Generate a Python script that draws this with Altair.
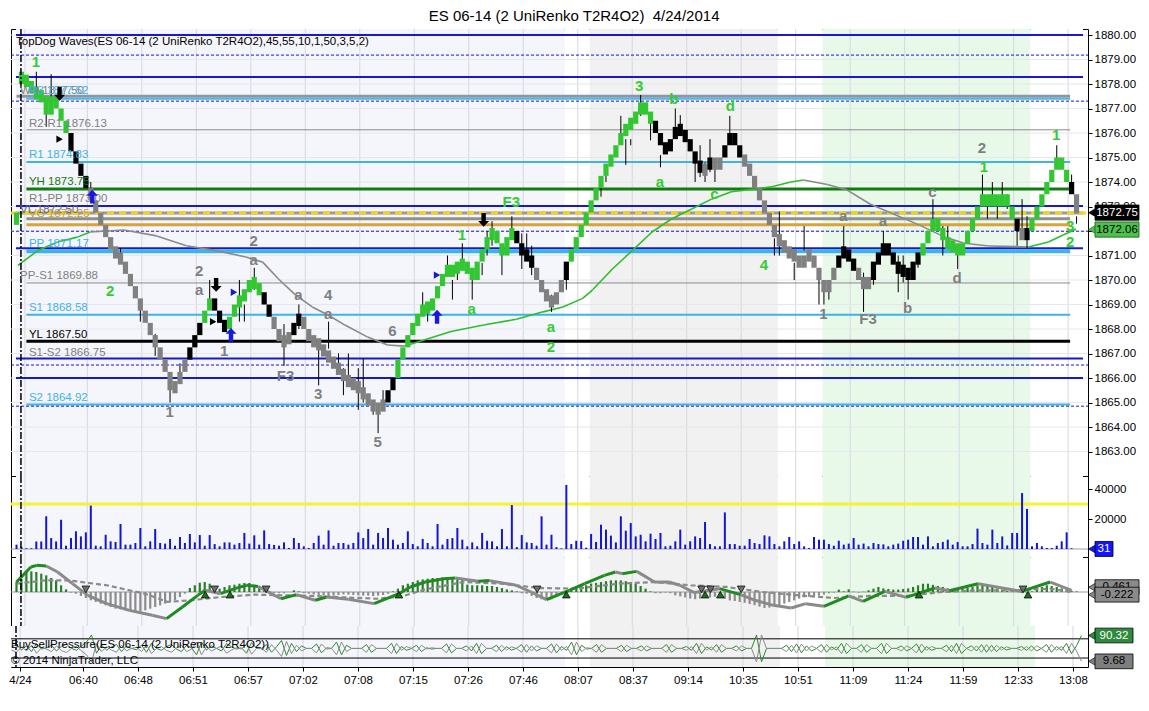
import altair as alt
import pandas as pd

# ------------------------------------------------------------------ data
TITLE = "ES 06-14 (2 UniRenko T2R4O2)\u00a0\u00a04/24/2014"

# UniRenko bar closes (one per bar index k = 0..214)
closes = [
    1872.5, 1878.25,
    1878.0, 1877.75, 1877.5, 1877.5, 1876.75, 1877.5, 1877.0, 1876.5, 1876.0,
    1875.25, 1874.75, 1874.25, 1873.75,
    1873.25, 1872.75, 1872.25, 1871.75, 1871.25, 1871.0, 1870.75, 1870.25, 1869.75, 1869.25,
    1868.75, 1868.25, 1867.75, 1867.25, 1866.75, 1866.25, 1865.5, 1865.75, 1866.25, 1866.75,
    1867.25, 1867.75, 1868.25,
    1868.75, 1869.25,
    1868.75, 1868.25, 1868.0,
    1868.5, 1869.0, 1869.25, 1869.5, 1870.0, 1869.75, 1869.5,
    1869.0, 1868.5,
    1868.0, 1867.5, 1867.5, 1867.75,
    1868.25, 1868.5,
    1868.0, 1867.5, 1867.5, 1867.25, 1867.0, 1866.75, 1866.5, 1866.25, 1866.0, 1865.75,
    1865.75, 1865.5, 1865.25, 1865.0, 1864.75, 1864.75, 1865.0,
    1865.5, 1866.0,
    1866.75, 1867.25, 1867.75, 1868.25, 1868.5, 1869.0, 1868.75, 1869.25, 1869.75, 1870.25,
    1870.5, 1870.25, 1870.75, 1870.5, 1870.5, 1870.0, 1870.75, 1871.25, 1871.75, 1872.0,
    1871.5, 1871.0, 1871.75, 1872.0,
    1871.5, 1871.0, 1871.0, 1870.5,
    1870.0, 1869.5, 1869.25, 1869.0, 1869.5, 1870.0,
    1870.75,
    1871.25, 1871.75, 1872.25, 1872.75, 1873.25, 1873.75, 1874.25, 1874.75, 1875.0, 1875.5,
    1876.0, 1876.25, 1876.5, 1876.75, 1877.25, 1876.75, 1876.5,
    1876.0, 1875.5, 1875.25, 1875.75, 1876.25, 1876.0, 1875.75, 1875.25, 1874.75, 1874.5,
    1874.5, 1875.0, 1874.5, 1875.0,
    1875.5, 1876.0, 1875.5, 1875.0,
    1874.75, 1874.25, 1873.75, 1873.25, 1872.75, 1872.25, 1871.75, 1871.5, 1871.25, 1871.0,
    1871.0, 1870.5, 1871.0, 1871.0, 1870.5, 1870.0, 1869.5, 1870.0, 1870.5,
    1871.0, 1871.25, 1870.75, 1870.5,
    1870.0, 1869.75, 1870.0,
    1870.75, 1871.0, 1871.5, 1871.0, 1870.75, 1870.25, 1870.5, 1870.0, 1870.75, 1871.0,
    1871.5, 1872.0, 1872.5, 1872.0, 1871.75, 1871.25, 1871.5, 1871.0, 1871.5, 1872.0,
    1872.5, 1873.0, 1873.5, 1873.0, 1873.5, 1873.0, 1873.5, 1873.0, 1872.5,
    1872.0, 1871.75, 1872.0,
    1872.5, 1873.0, 1873.5, 1874.0, 1874.5, 1875.0, 1874.5, 1874.0,
    1873.5, 1872.75,
]
bar_kind = list(
    "gg" "ggggggggg" "kkkk" "ssssssssssssssssssss" "kkk" "gg" "kkk" "ggggggg" "kk" "ssss" "kk"
    "sssssssssssssssss" "kk" "gggggggggggggggggggggggg" "kkkk" "ssssss" "k"
    "ggggggggggggggggg" "kkkkkkkkkk" "s" "k" "ss" "kkkk" "sssssssssssssssssss" "kkkk" "sss"
    "kkkkkkkkkk" "ggggggggggggggggggg" "k" "s" "k" "gggggggg" "k" "s"
)
# wicks: bar index, low, high
wick_k = [4, 6, 7, 15, 21, 25, 28, 31, 33, 39, 45, 46, 48, 54, 57, 61, 63, 65, 66, 67, 69, 70, 72,
          73, 74, 82, 83, 87, 88, 89, 90, 92, 94, 95, 96, 98, 100, 102, 103, 104, 108, 111, 118,
          119, 122, 123, 124, 126, 128, 130, 133, 134, 137, 138, 139, 140, 141, 144, 153, 154,
          157, 159, 162, 163, 164, 167, 171, 173, 175, 178, 179, 180, 182, 185, 187, 188, 190,
          195, 196, 197, 198, 199, 200, 202, 203, 204, 210, 213, 214]
wick_lo = [1877.7, 1876.25, 1877.0, 1873.2, 1870.7, 1868.3, 1866.9, 1865.0, 1865.8, 1869.2, 1868.3,
           1868.3, 1869.6, 1866.5, 1868.0, 1865.7, 1867.2, 1866.2, 1865.3, 1865.9, 1864.7, 1865.0,
           1864.5, 1863.75, 1864.7, 1868.6, 1868.3, 1870.2, 1869.2, 1870.0, 1870.7, 1869.2, 1870.2,
           1871.0, 1871.4, 1870.2, 1871.75, 1870.45, 1871.0, 1870.2, 1868.7, 1869.6, 1873.4,
           1874.0, 1875.6, 1874.7, 1875.5, 1876.7, 1875.7, 1874.6, 1876.25, 1876.25, 1874.0,
           1874.2, 1874.0, 1874.4, 1874.0, 1875.7, 1871.0, 1871.0, 1870.0, 1871.2, 1869.0,
           1869.0, 1869.2, 1871.0, 1868.7, 1869.8, 1871.2, 1869.5, 1869.9, 1869.2, 1870.5,
           1872.25, 1871.0, 1871.3, 1870.45, 1873.2, 1872.5, 1873.2, 1872.5, 1873.0, 1872.9,
           1871.4, 1871.9, 1871.3, 1874.7, 1873.7, 1872.3]
wick_hi = [1878.5, 1877.4, 1878.4, 1874.0, 1871.3, 1869.2, 1867.8, 1865.8, 1866.6, 1870.0, 1870.0,
           1869.0, 1870.5, 1868.2, 1869.0, 1867.2, 1868.3, 1867.0, 1866.4, 1867.0, 1866.4, 1866.8,
           1864.9, 1864.9, 1865.5, 1869.5, 1869.0, 1871.0, 1870.0, 1870.6, 1871.5, 1870.2, 1870.7,
           1872.0, 1872.4, 1871.3, 1872.6, 1871.9, 1871.9, 1871.4, 1869.4, 1870.7, 1873.8,
           1874.3, 1876.7, 1875.75, 1875.75, 1877.55, 1876.5, 1875.1, 1877.0, 1876.73, 1874.8,
           1875.5, 1874.8, 1875.75, 1874.8, 1876.7, 1871.7, 1872.8, 1870.7, 1872.2, 1870.4,
           1870.0, 1870.0, 1872.2, 1870.3, 1870.6, 1872.0, 1871.0, 1871.0, 1870.2, 1870.9,
           1873.3, 1872.2, 1872.2, 1871.3, 1874.3, 1873.2, 1874.0, 1873.0, 1874.0, 1873.5,
           1872.1, 1873.3, 1872.6, 1875.5, 1874.3, 1872.6]

# moving average: bar index, value, colour of the following segment
ma_k = [0.3, 4.3, 8.3, 12.3, 14.9, 21.7, 28.3, 34.3, 40.3, 46.3, 49.7, 52.9, 56.3, 59.7, 62.9,
        66.3, 70.9, 74.9, 78.3, 87.7, 94.3, 100.9, 106.3, 110.3, 114.3, 116.3, 120.3, 124.3,
        128.3, 132.3, 136.3, 140.3, 144.3, 148.3, 152.3, 156.3, 158.9, 163.7, 167.7, 172.3,
        176.9, 182.3, 187.3, 191.3, 196.3, 204.3, 208.3, 211.3, 213.9]
ma_v = [1870.6, 1871.2, 1871.55, 1871.75, 1871.96, 1872.04, 1871.8, 1871.4, 1871.2, 1870.94,
        1870.73, 1870.04, 1869.39, 1868.9, 1868.57, 1868.16, 1867.67, 1867.35, 1867.3, 1867.9,
        1868.16, 1868.4, 1868.7, 1868.9, 1869.25, 1869.6, 1870.45, 1871.2, 1871.96, 1872.5,
        1872.9, 1873.3, 1873.6, 1873.7, 1873.8, 1874.0, 1874.08, 1873.9, 1873.67, 1873.1,
        1872.7, 1872.24, 1871.76, 1871.5, 1871.39, 1871.35, 1871.55, 1871.84, 1872.08]
ma_col = list("gggg" "ssssssssssssss" "gggggggggggggggggg" "sssssssss" "gggg")

# pivot / level lines
lvl_v = [1880.0, 1878.29, 1877.5, 1877.4, 1876.13, 1874.82, 1873.71, 1873.02, 1872.73, 1872.5,
         1872.26, 1871.3, 1871.17, 1869.88, 1868.58, 1867.5, 1866.8, 1866.0, 1864.92]
lvl_c = ["#1818d0", "#1818d0", "#8c97a3", "#4cb8ec", "#8a8a8a", "#3db3ea", "#137a13", "#1818d0",
         "#9a9a9a", "#8f8f8f", "#d6a43a", "#1818d0", "#3db3ea", "#8a8a8a", "#3db3ea", "#000000",
         "#1818d0", "#1818d0", "#3db3ea"]
lvl_w = [2, 2, 3, 2, 1, 2, 3, 2, 3, 3, 3, 2, 4, 1, 2, 3, 2, 2, 2]
lvl_x0 = [-0.1, -0.1, 0.0, 2.0, 2.0, 2.0, 2.0, -0.1, -0.1, 2.0, 2.0, -0.1, 2.0, 2.0, 2.0, 2.0,
          -0.1, -0.1, 2.0]
lvl_x1 = [215.3, 215.3, 212.7, 212.7, 212.7, 212.7, 212.7, 215.3, 215.3, 212.7, 212.7, 215.3,
          212.7, 212.7, 212.7, 212.7, 215.3, 215.3, 212.7]
dash_v = [1879.18, 1877.3, 1871.99, 1866.53, 1864.85]

lvl_text = ["TopDog Waves(ES 06-14 (2 UniRenko T2R4O2),45,55,10,1,50,3,5,2)", "WH 1877.50",
            "R3 1877.52", "R2-R1 1876.13", "R1 1874.83", "YH 1873.75", "R1-PP 1873.00",
            "VL 1872.50", "VC 1872.25", "PP 1871.17", "PP-S1 1869.88", "S1 1868.58",
            "YL 1867.50", "S1-S2 1866.75", "S2 1864.92"]
lvl_tk = [-0.1, 0.7, 2.5, 2.5, 2.5, 2.5, 2.5, 0.7, 2.5, 2.5, 0.7, 2.5, 2.5, 2.5, 2.5]
lvl_tv = [1879.71, 1877.71, 1877.71, 1876.37, 1875.1, 1874.0, 1873.31, 1872.85, 1872.68, 1871.47,
          1870.16, 1868.86, 1867.76, 1867.02, 1865.18]
lvl_tc = ["#000000", "#808080", "#3db3ea", "#808080", "#3db3ea", "#137a13", "#808080", "#6a6a6a",
          "#c9a040", "#3db3ea", "#808080", "#3db3ea", "#000000", "#808080", "#3db3ea"]

# wave labels
wave_t = ["1", "2", "1", "a", "F3", "a", "2", "3", "b", "a", "c", "d", "4", "1", "1", "3", "2",
          "1", "2", "a", "1", "2", "a", "a", "4", "a", "F3", "3", "5", "6", "1", "F3", "b", "a",
          "a", "c", "d", "2"]
wave_k = [3.9, 18.9, 89.9, 91.9, 99.9, 107.9, 107.9, 125.7, 132.7, 129.9, 140.9, 144.1, 150.9,
          195.3, 209.9, 212.7, 212.7,
          30.9, 36.9, 36.9, 41.9, 47.9, 47.9, 56.9, 62.9, 62.9, 54.3, 60.9, 72.9, 75.9, 162.9,
          171.9, 179.9, 166.9, 174.9, 184.9, 189.9, 194.9]
wave_v = [1878.9, 1869.55, 1871.84, 1868.8, 1873.2, 1868.1, 1867.27, 1877.9, 1877.4, 1874.0,
          1873.5, 1877.1, 1870.6, 1874.6, 1875.9, 1872.2, 1871.55,
          1864.6, 1870.37, 1869.6, 1867.1, 1871.6, 1870.8, 1869.4, 1869.4, 1868.6, 1866.1,
          1865.35, 1863.4, 1867.9, 1868.6, 1868.4, 1868.85, 1872.6, 1872.4, 1873.6, 1870.1,
          1875.4]
wave_c = ["#33cc33"] * 17 + ["#7f7f7f"] * 21

# signal arrows
up_k = [15.3, 43.3, 84.9]
up_v = [1873.4, 1867.76, 1868.5]
dn_k = [8.7, 40.3, 94.3]
dn_v = [1877.6, 1869.8, 1872.45]
tri_k = [84.9, 43.9, 8.7, 39.7]
tri_v = [1870.2, 1869.5, 1875.75, 1868.3]
tri_c = ["#1818d0", "#1818d0", "#000000", "#000000"]

# volume (thousands of contracts)
volume = [
    2.9, 1.5, 0.5, 0.5, 5.0, 5.0, 21.8, 7.3, 5.0, 19.5,
    2.2, 7.3, 11.8, 8.4, 11.1, 28.9, 2.2, 1.8, 9.5, 5.1,
    4.7, 16.7, 2.9, 2.9, 4.0, 14.0, 1.8, 5.1, 13.3, 4.0,
    3.6, 6.7, 2.2, 8.0, 4.0, 10.0, 4.4, 9.3, 2.2, 9.3,
    3.3, 1.8, 4.4, 4.4, 2.9, 4.0, 10.7, 3.6, 9.1, 2.9,
    12.4, 3.3, 2.7, 2.2, 4.4, 0.7, 7.3, 4.0, 1.8, 0.7,
    4.0, 8.9, 2.9, 12.4, 2.2, 4.0, 4.0, 2.9, 4.0, 11.1,
    7.3, 13.3, 2.9, 10.7, 7.3, 14.0, 6.2, 2.9, 4.0, 11.8,
    3.3, 1.8, 6.7, 4.0, 1.8, 16.7, 2.9, 6.7, 7.3, 14.0,
    6.2, 1.8, 4.4, 1.8, 10.7, 5.5, 5.1, 1.8, 13.3, 1.8,
    29.3, 1.3, 9.3, 4.4, 4.0, 2.2, 21.8, 2.9, 9.5, 1.3,
    0.4, 42.7, 3.3, 5.5, 5.3,
    0.9, 10.0, 4.7, 16.2, 12.9, 8.9, 4.4, 21.8, 12.2, 17.3,
    8.4, 9.5, 5.1, 10.2, 6.7, 10.7, 1.8, 2.2, 5.1, 12.9,
    2.9, 5.1, 8.4, 7.3, 18.0, 3.3, 1.8, 1.8, 24.4, 3.3,
    3.3, 2.2, 2.2, 6.7, 4.0, 3.3, 9.1, 8.4, 3.3, 1.8,
    5.1, 8.0, 3.3, 5.1, 1.8, 0.7, 8.0, 6.2, 6.2, 3.3,
    2.2, 5.5, 2.9, 3.6, 7.3, 2.9, 3.6, 1.8, 4.0, 3.3,
    3.1, 1.8, 2.9, 3.6, 5.5, 6.2, 8.0, 8.0, 2.9, 8.4,
    1.8, 4.0, 4.7, 6.2, 2.9, 4.7, 1.8, 1.8, 3.3, 13.6,
    4.0, 2.9, 12.9, 4.0, 8.4, 2.4, 10.7, 10.7, 37.3, 26.7,
    1.8, 4.0, 1.8, 0.7, 0.7, 2.2, 5.1, 11.1, 0.5, 0.03,
]
vol_alert = 30000

# MACD histogram (one per bar)
hist = [
    0.83, 1.11, 1.67, 1.72, 1.67, 1.53, 1.39, 1.17, 0.97, 0.56,
    0.22, -0.05, -0.14, -0.33, -0.5, -0.69, -0.83, -0.97, -1.11, -1.25,
    -1.39, -1.44, -1.53, -1.61, -1.61, -1.61, -1.53, -1.39, -1.25, -1.11,
    -0.97, -0.83, -0.69, -0.42, -0.14, 0.33, 0.56, 0.78, 0.83, 0.69,
    0.42, 0.28, 0.42, 0.56, 0.61, 0.69, 0.75, 0.75, 0.61, 0.42,
    0.22, 0.06, -0.08, -0.1, -0.1, 0.0, 0.14, 0.05, -0.1, -0.14,
    -0.2, -0.25, -0.3, -0.33, -0.3, -0.25, -0.2, -0.22, -0.25, -0.28,
    -0.3, -0.3, -0.33, -0.3, -0.25, -0.15, 0.05, 0.28, 0.56, 0.69,
    0.83, 0.97, 1.05, 1.11, 1.17, 1.17, 1.22, 1.25, 1.17, 1.17,
    1.05, 0.61, 0.56, 0.56, 0.56, 0.5, 0.5, 0.42, 0.33, 0.22,
    0.14, 0.05, -0.1, -0.14, -0.33, -0.5, -0.61, -0.69, -0.61, -0.42,
    -0.22, 0.14, 0.28, 0.42, 0.5,
    0.56, 0.7, 0.75, 0.83, 0.9, 0.97, 0.97, 0.97, 0.9, 0.83,
    0.7, 0.5, 0.28, 0.05, -0.1, -0.1, -0.05, -0.1, -0.28, -0.36,
    -0.45, -0.55, -0.6, -0.55, -0.5, -0.45, -0.4, -0.45, -0.56, -0.7,
    -0.75, -0.83, -0.9, -1.0, -1.1, -1.22, -1.33, -1.3, -1.2, -1.1,
    -0.97, -0.83, -0.7, -0.55, -0.45, -0.4, -0.36, -0.3, -0.22, -0.1,
    -0.05, 0.2, 0.05, 0.22, 0.02, -0.05, 0.02, 0.14, 0.28, 0.42,
    0.3, 0.25, 0.2, 0.2, 0.25, 0.3, 0.42, 0.56, 0.69, 0.69,
    0.6, 0.5, 0.42, 0.3, 0.22, 0.2, 0.28, 0.35, 0.45, 0.55,
    0.56, 0.5, 0.42, 0.3, 0.2, 0.1, 0.05, 0.02, -0.1, -0.15,
    0.05, 0.28, 0.42, 0.56, 0.5, 0.42, 0.3, 0.2, 0.1, 0.05,
]
macd_k = [0.0, 2.9, 4.1, 6.0, 8.3, 11.3, 14.4, 18.2, 22.8, 27.4, 30.3, 33.5, 36.6, 38.1, 41.2,
          44.2, 46.5, 48.8, 53.4, 56.5, 60.3, 62.6, 67.0, 72.2, 77.2, 79.5, 82.5, 86.3, 88.6,
          93.2, 95.5, 100.9, 103.9, 107.0, 111.6, 114.7, 118.7, 120.9, 122.3, 125.2, 128.8,
          131.7, 133.9, 136.8, 141.9, 146.2, 149.1, 152.8, 156.4, 159.3, 163.0, 168.0, 170.9,
          175.3, 179.6, 185.4, 188.3, 194.1, 202.9, 208.7, 213.0]
macd_v = [0.83, 2.08, 2.22, 2.17, 1.67, 0.7, -0.28, -0.97, -1.53, -1.94, -2.22, -1.25, -0.28,
          0.14, -0.14, 0.3, 0.56, 0.45, -0.56, -0.22, -0.69, -0.42, -0.6, -0.97, -0.14, 0.42,
          0.83, 1.11, 1.17, 0.9, 0.95, 0.56, 0.0, -0.64, 0.14, 0.7, 1.39, 1.67, 1.53, 1.72,
          0.83, 0.83, 0.56, -0.05, 0.28, -0.22, -0.69, -1.11, -1.33, -0.97, -1.19, -0.33,
          -0.78, 0.05, -0.45, 0.33, 0.1, 0.69, 0.05, 0.83, 0.14]
macd_col = list("ggg" "sssssss" "ggg" "s" "ggg" "s" "g" "s" "g" "ss" "ggggg" "s" "g"
                "sss" "gggg" "s" "g" "sssss" "g" "sssss" "g" "s" "g" "s" "g" "s" "g" "s" "g"
                "s" "g" "s" "s")
sig_k = [0, 6, 10.6, 18.2, 25.9, 30.5, 35.1, 41.2, 48.1, 59.6, 72.6, 77.9, 82.5, 90.2, 97.8,
         105.5, 113.1, 121.6, 128.8, 136.1, 143.3, 150.6, 157.9, 165.1, 172.4, 179.6, 186.9,
         194.1, 201.4, 208.7, 213.0]
sig_v = [0.7, 0.97, 0.97, 0.56, -0.14, -0.83, -0.69, -0.42, -0.22, -0.33, -0.56, -0.36, 0.22,
         0.83, 0.7, 0.33, 0.28, 0.7, 0.83, 0.56, 0.42, 0.0, -0.28, -0.5, -0.33, -0.33, 0.0,
         0.14, 0.14, 0.28, 0.0]
cross_dn = [14, 40, 50.4, 105.1, 138.3, 140.1, 146.3, 203.2]
cross_up = [38.1, 43.1, 77.2, 111, 139, 142.1, 182.2, 204.2]

# Buy/Sell pressure (buy side; sell side mirrors it)
bsp_buy = [
    55, 62, 45, 58, 40, 65, 48, 52, 60, 42, 57, 63, 50, 44, 58, 70, 92, 35, 60, 45,
    55, 62, 40, 58, 50, 46, 60, 38, 66, 50,
    44, 56, 62, 48, 40, 60, 52, 30, 70, 45, 58, 50, 42, 65, 55, 48, 52, 35, 68, 50,
    50, 62, 38, 55, 75, 28, 66, 40, 58, 50, 50, 64, 36, 52, 50, 70, 30, 60, 50, 50,
    50, 62, 38, 50, 50, 50, 66, 34, 56, 44, 50, 60, 40, 52, 48, 50, 50, 64, 36, 50,
    50, 58, 42, 66, 34, 50, 50, 60, 40, 55, 45, 50, 62, 38, 58, 42, 50, 50, 64, 36,
    56, 44, 70, 30, 60, 48, 50, 62, 38, 50, 50, 50, 60, 40, 50, 50, 58, 42, 50, 50,
    50, 62, 38, 50, 50, 56, 44, 66, 34, 55, 45, 62, 38, 50, 50, 58, 42, 50, 50, 92,
    8, 50, 50, 50, 50, 60, 40, 64, 36, 58, 42, 50, 62, 38, 55, 45, 66, 34, 50, 50,
    62, 38, 50, 50, 66, 34, 50, 50, 58, 42, 50, 64, 36, 56, 44, 50, 50, 60, 40, 66,
    34, 50, 58, 42, 62, 38, 60, 40, 55, 45, 50, 50, 56, 44, 58, 42, 50, 62, 38, 56,
    44, 66, 34, 58, 90.32,
]

# time axis
tick_pos = [1.7, 14.3, 25.3, 36.3, 47.3, 58.3, 69.3, 80.3, 91.3, 102.3, 113.3, 124.3, 135.3,
            146.3, 157.3, 168.3, 179.3, 190.3, 201.3, 212.3]
tick_lab = ["4/24", "06:40", "06:48", "06:51", "06:57", "07:02", "07:08", "07:15", "07:26",
            "07:46", "08:07", "08:37", "09:14", "10:35", "10:51", "11:09", "11:24", "11:59",
            "12:33", "13:08"]
session_k = 0.9

# session shading
shade_x0 = [-0.1, 110.7, 115.7, 153.7, 162.7, 204.7]
shade_x1 = [110.7, 115.7, 153.7, 162.7, 204.7, 215.3]
shade_c = ["#f5f6fb", "#ffffff", "#f1f1f1", "#ffffff", "#e9f9e9", "#ffffff"]

price_ticks = list(range(1863, 1881))

# ------------------------------------------------------------------ layout
W = 1077
H_P, H_V, H_M, H_B = 447, 81, 69, 41
XDOM = [-0.1, 215.3]
FONT = "Liberation Sans"
KCOL = {"g": "#33c633", "k": "#000000", "s": "#808080"}
UP_ARROW = "M0,-1L0.8,-0.15L0.32,-0.15L0.32,1L-0.32,1L-0.32,-0.15L-0.8,-0.15Z"
DN_ARROW = "M0,1L0.8,0.15L0.32,0.15L0.32,-1L-0.32,-1L-0.32,0.15L-0.8,0.15Z"


def xsc():
    return alt.Scale(domain=XDOM, nice=False, zero=False)


n = min(len(closes), len(bar_kind))
lo, hi = [], []
prev = None
for c in closes[:n]:
    if prev is None or abs(c - prev) > 1.0:
        a, b = c - 0.25, c + 0.25
    else:
        a, b = min(prev, c), max(prev, c)
        if b - a < 0.5:
            m = (a + b) / 2
            a, b = m - 0.25, m + 0.25
    lo.append(a)
    hi.append(b)
    prev = c
bars_df = pd.DataFrame({"k": list(range(n)), "lo": lo, "hi": hi,
                        "col": [KCOL[t] for t in bar_kind[:n]]})
wick_df = pd.DataFrame({"k": wick_k, "lo": wick_lo, "hi": wick_hi})

seg_rows = []
for j in range(len(ma_k) - 1):
    col = "#2ebd2e" if ma_col[min(j, len(ma_col) - 1)] == "g" else "#8a8a8a"
    seg_rows.append({"k": ma_k[j], "v": ma_v[j], "seg": j, "col": col})
    seg_rows.append({"k": ma_k[j + 1], "v": ma_v[j + 1], "seg": j, "col": col})
ma_df = pd.DataFrame(seg_rows)

shade_df = pd.DataFrame({"x0": shade_x0, "x1": shade_x1, "col": shade_c})
grid_df = pd.DataFrame({"k": tick_pos})
sess_df = pd.DataFrame({"k": [session_k]})


def panel_base(h, yscale, yaxis, xaxis):
    bg = alt.Chart(shade_df).mark_rect().encode(
        x=alt.X("x0:Q", scale=xsc(), axis=xaxis), x2="x1:Q",
        y=alt.value(0), y2=alt.value(h), color=alt.Color("col:N", scale=None))
    vg = alt.Chart(grid_df).mark_rule(color="#d6d6df", strokeWidth=1).encode(
        x=alt.X("k:Q", scale=xsc(), axis=xaxis), y=alt.value(0), y2=alt.value(h))
    return [bg, vg]


def session_line(h, xaxis):
    return alt.Chart(sess_df).mark_rule(color="black", strokeWidth=1.5,
                                        strokeDash=[7, 2, 2, 2]).encode(
        x=alt.X("k:Q", scale=xsc(), axis=xaxis), y=alt.value(0), y2=alt.value(h))


def tag(value, text, fill, tcolor, w, half, yscale, yaxis, xaxis, stroke="black"):
    d = pd.DataFrame({"y": [value], "y1": [value + half], "y2": [value - half], "t": [text]})
    base = alt.Chart(d)
    tri = base.mark_point(shape="triangle-left", filled=True, size=110, clip=False,
                          opacity=1, fill=fill, stroke=stroke, strokeWidth=0.6).encode(
        x=alt.value(W + 5), y=alt.Y("y:Q", scale=yscale, axis=yaxis))
    rect = base.mark_rect(clip=False, fill=fill, stroke=stroke, strokeWidth=0.8).encode(
        x=alt.value(W + 7), x2=alt.value(W + 7 + w),
        y=alt.Y("y1:Q", scale=yscale, axis=yaxis), y2="y2:Q")
    txt = base.mark_text(clip=False, font=FONT, fontSize=11.5, color=tcolor,
                         align="center", baseline="middle").encode(
        x=alt.value(W + 7 + w / 2), y=alt.Y("y:Q", scale=yscale, axis=yaxis), text="t:N")
    return [tri, rect, txt]


# ------------------------------------------------------------------ price panel
ysc_p = alt.Scale(domain=[1862.0, 1880.245], nice=False, zero=False)
yax_p = alt.Axis(orient="right", values=price_ticks, format=".2f", title=None, grid=False,
                 tickSize=4, labelPadding=2, domain=False, labelFontSize=11.5,
                 labelColor="black", tickColor="black", labelFont=FONT)
xax_none = None

hgrid_df = pd.DataFrame({"v": price_ticks})
hgrid = alt.Chart(hgrid_df).mark_rule(color="#e6e6ee", strokeWidth=1).encode(
    y=alt.Y("v:Q", scale=ysc_p, axis=yax_p), x=alt.value(0), x2=alt.value(W))

lvl_df = pd.DataFrame({"v": lvl_v, "c": lvl_c, "w": lvl_w, "x0": lvl_x0, "x1": lvl_x1})
levels = alt.Chart(lvl_df).mark_rule().encode(
    x=alt.X("x0:Q", scale=xsc(), axis=xax_none), x2="x1:Q",
    y=alt.Y("v:Q", scale=ysc_p, axis=yax_p),
    color=alt.Color("c:N", scale=None), strokeWidth=alt.StrokeWidth("w:Q", scale=None))
dash_df = pd.DataFrame({"v": dash_v})
dashes = alt.Chart(dash_df).mark_rule(color="#1818d0", strokeWidth=1, strokeDash=[3, 2]).encode(
    x=alt.value(0), x2=alt.value(W), y=alt.Y("v:Q", scale=ysc_p, axis=yax_p))
ydash = alt.Chart(pd.DataFrame({"v": [1872.73]})).mark_rule(
    color="#f2d21b", strokeWidth=3, strokeDash=[7, 5]).encode(
    x=alt.value(0), x2=alt.value(W), y=alt.Y("v:Q", scale=ysc_p, axis=yax_p))

ma_line = alt.Chart(ma_df).mark_line(strokeWidth=1.6).encode(
    x=alt.X("k:Q", scale=xsc(), axis=xax_none),
    y=alt.Y("v:Q", scale=ysc_p, axis=yax_p),
    detail="seg:N", color=alt.Color("col:N", scale=None))

wicks = alt.Chart(wick_df).mark_rule(color="black", strokeWidth=1).encode(
    x=alt.X("k:Q", scale=xsc(), axis=xax_none),
    y=alt.Y("lo:Q", scale=ysc_p, axis=yax_p), y2="hi:Q")
bars = alt.Chart(bars_df).mark_bar(size=5.2).encode(
    x=alt.X("k:Q", scale=xsc(), axis=xax_none),
    y=alt.Y("lo:Q", scale=ysc_p, axis=yax_p), y2="hi:Q",
    color=alt.Color("col:N", scale=None))

lvl_text_df = pd.DataFrame({"k": lvl_tk, "v": lvl_tv, "t": lvl_text, "c": lvl_tc})
lvl_texts = alt.Chart(lvl_text_df).mark_text(
    align="left", baseline="middle", font=FONT, fontSize=11.5, clip=False).encode(
    x=alt.X("k:Q", scale=xsc(), axis=xax_none), y=alt.Y("v:Q", scale=ysc_p, axis=yax_p),
    text="t:N", color=alt.Color("c:N", scale=None))

wave_df = pd.DataFrame({"k": wave_k, "v": wave_v, "t": wave_t, "c": wave_c})
waves = alt.Chart(wave_df).mark_text(
    align="center", baseline="middle", font=FONT, fontSize=15, fontWeight="bold").encode(
    x=alt.X("k:Q", scale=xsc(), axis=xax_none), y=alt.Y("v:Q", scale=ysc_p, axis=yax_p),
    text="t:N", color=alt.Color("c:N", scale=None))

up_arr = alt.Chart(pd.DataFrame({"k": up_k, "v": up_v})).mark_point(
    shape=UP_ARROW, filled=True, size=190, color="#1818e0", opacity=1).encode(
    x=alt.X("k:Q", scale=xsc(), axis=xax_none), y=alt.Y("v:Q", scale=ysc_p, axis=yax_p))
dn_arr = alt.Chart(pd.DataFrame({"k": dn_k, "v": dn_v})).mark_point(
    shape=DN_ARROW, filled=True, size=190, color="#000000", opacity=1).encode(
    x=alt.X("k:Q", scale=xsc(), axis=xax_none), y=alt.Y("v:Q", scale=ysc_p, axis=yax_p))
tris = alt.Chart(pd.DataFrame({"k": tri_k, "v": tri_v, "c": tri_c})).mark_point(
    shape="triangle-right", filled=True, size=55, opacity=1).encode(
    x=alt.X("k:Q", scale=xsc(), axis=xax_none), y=alt.Y("v:Q", scale=ysc_p, axis=yax_p),
    color=alt.Color("c:N", scale=None))

price_layers = (panel_base(H_P, ysc_p, yax_p, xax_none) +
                [hgrid, levels, dashes, ydash, ma_line, wicks, bars, session_line(H_P, xax_none),
                 lvl_texts, waves, up_arr, dn_arr, tris] +
                tag(1872.75, "1872.75", "#000000", "white", 44, 0.31, ysc_p, yax_p, xax_none) +
                tag(1872.06, "1872.06", "#4cc24c", "black", 44, 0.31, ysc_p, yax_p, xax_none,
                    stroke="#1a5a1a"))
price = alt.layer(*price_layers).properties(width=W, height=H_P)

# ------------------------------------------------------------------ volume panel
ysc_v = alt.Scale(domain=[-5333, 48667], nice=False, zero=False)
yax_v = alt.Axis(orient="right", values=[20000, 40000], format="d", title=None, grid=False,
                 tickSize=4, labelPadding=2, domain=False, labelFontSize=11.5,
                 labelColor="black", tickColor="black", labelFont=FONT)
vol_df = pd.DataFrame({"k": list(range(len(volume))), "v": [x * 1000 for x in volume],
                       "z": [0] * len(volume)})
vol_bars = alt.Chart(vol_df).mark_bar(size=2, color="#1414d4").encode(
    x=alt.X("k:Q", scale=xsc(), axis=xax_none),
    y=alt.Y("v:Q", scale=ysc_v, axis=yax_v), y2="z:Q")
vol_zero = alt.Chart(pd.DataFrame({"v": [0]})).mark_rule(color="#a0a0a0").encode(
    y=alt.Y("v:Q", scale=ysc_v, axis=yax_v), x=alt.value(0), x2=alt.value(W))
vol_yel = alt.Chart(pd.DataFrame({"v": [vol_alert]})).mark_rule(
    color="#f4f432", strokeWidth=3).encode(
    y=alt.Y("v:Q", scale=ysc_v, axis=yax_v), x=alt.value(0), x2=alt.value(W))
vol_layers = (panel_base(H_V, ysc_v, yax_v, xax_none) +
              [vol_zero, vol_yel, vol_bars, session_line(H_V, xax_none)] +
              tag(31, "31", "#1414ff", "white", 18, 5000, ysc_v, yax_v, xax_none))
vol = alt.layer(*vol_layers).properties(width=W, height=H_V)

# ------------------------------------------------------------------ MACD panel
ysc_m = alt.Scale(domain=[-2.833, 2.917], nice=False, zero=False)
yax_m = None
hist_df = pd.DataFrame({"k": list(range(len(hist))), "v": hist, "z": [0] * len(hist),
                        "c": ["#2a7d2a" if h >= 0 else "#8c8c8c" for h in hist]})
hbars = alt.Chart(hist_df).mark_bar(size=2.2).encode(
    x=alt.X("k:Q", scale=xsc(), axis=xax_none),
    y=alt.Y("v:Q", scale=ysc_m, axis=yax_m), y2="z:Q", color=alt.Color("c:N", scale=None))
mzero = alt.Chart(pd.DataFrame({"v": [0]})).mark_rule(color="#9a9a9a").encode(
    y=alt.Y("v:Q", scale=ysc_m, axis=yax_m), x=alt.value(0), x2=alt.value(W))
sig = alt.Chart(pd.DataFrame({"k": sig_k, "v": sig_v})).mark_line(
    color="#8a8a8a", strokeWidth=2.2, strokeDash=[5, 3]).encode(
    x=alt.X("k:Q", scale=xsc(), axis=xax_none), y=alt.Y("v:Q", scale=ysc_m, axis=yax_m))
mrows = []
for j in range(len(macd_k) - 1):
    col = "#1f8a1f" if macd_col[min(j, len(macd_col) - 1)] == "g" else "#8a8a8a"
    mrows.append({"k": macd_k[j], "v": macd_v[j], "seg": j, "col": col})
    mrows.append({"k": macd_k[j + 1], "v": macd_v[j + 1], "seg": j, "col": col})
mline = alt.Chart(pd.DataFrame(mrows)).mark_line(strokeWidth=3).encode(
    x=alt.X("k:Q", scale=xsc(), axis=xax_none), y=alt.Y("v:Q", scale=ysc_m, axis=yax_m),
    detail="seg:N", color=alt.Color("col:N", scale=None))
cdn = alt.Chart(pd.DataFrame({"k": cross_dn, "v": [0.22] * len(cross_dn)})).mark_point(
    shape="triangle-down", filled=True, size=60, fill="#6e6e6e", stroke="black",
    strokeWidth=0.7, opacity=1).encode(
    x=alt.X("k:Q", scale=xsc(), axis=xax_none), y=alt.Y("v:Q", scale=ysc_m, axis=yax_m))
cup = alt.Chart(pd.DataFrame({"k": cross_up, "v": [-0.22] * len(cross_up)})).mark_point(
    shape="triangle-up", filled=True, size=60, fill="#1e6e1e", stroke="black",
    strokeWidth=0.7, opacity=1).encode(
    x=alt.X("k:Q", scale=xsc(), axis=xax_none), y=alt.Y("v:Q", scale=ysc_m, axis=yax_m))
macd_layers = (panel_base(H_M, ysc_m, yax_m, xax_none) +
               [mzero, hbars, sig, mline, cdn, cup, session_line(H_M, xax_none)] +
               tag(0.4, "0.461", "#8a8a8a", "black", 44, 0.62, ysc_m, yax_m, xax_none) +
               tag(-0.222, "-0.222", "#8a8a8a", "black", 44, 0.62, ysc_m, yax_m, xax_none))
macd = alt.layer(*macd_layers).properties(width=W, height=H_M)

# ------------------------------------------------------------------ BSP panel
ysc_b = alt.Scale(domain=[-8, 120], nice=False, zero=False)
yax_b = None
expr = "".join(f"datum.value == {p} ? '{l}' : " for p, l in zip(tick_pos, tick_lab)) + "''"
xax_t = alt.Axis(values=tick_pos, labelExpr=expr, title=None, grid=False, domain=False,
                 tickSize=4, labelPadding=3, labelFontSize=11.5, labelColor="black",
                 tickColor="black", labelOverlap=False, labelFlush=False, labelFont=FONT)
brows = []
for k, v in enumerate(bsp_buy):
    brows.append({"k": k, "v": v, "s": "buy"})
    brows.append({"k": k, "v": 100 - v, "s": "sell"})
bsp_df = pd.DataFrame(brows)
blines = alt.Chart(bsp_df).mark_line(strokeWidth=1).encode(
    x=alt.X("k:Q", scale=xsc(), axis=xax_t), y=alt.Y("v:Q", scale=ysc_b, axis=yax_b),
    detail="s:N",
    color=alt.Color("s:N", scale=alt.Scale(domain=["buy", "sell"],
                                           range=["#2e8b2e", "#8c8c8c"]), legend=None))
blev = alt.Chart(pd.DataFrame({"v": [80, 20]})).mark_rule(color="black", strokeWidth=1).encode(
    y=alt.Y("v:Q", scale=ysc_b, axis=yax_b), x=alt.value(0), x2=alt.value(W))
btxt = alt.Chart(pd.DataFrame({
    "k": [-0.1, -0.1], "v": [61, 10.5],
    "t": ["BuySellPressure(ES 06-14 (2 UniRenko T2R4O2))", "\u00a9 2014 NinjaTrader, LLC"]})
).mark_text(align="left", baseline="middle", font=FONT, fontSize=11.5, color="black",
            clip=False).encode(
    x=alt.X("k:Q", scale=xsc(), axis=xax_t), y=alt.Y("v:Q", scale=ysc_b, axis=yax_b),
    text="t:N")
bsp_layers = (panel_base(H_B, ysc_b, yax_b, xax_t) +
              [blev, blines, btxt, session_line(H_B, xax_t)] +
              tag(90.32, "90.32", "#2e8b3e", "white", 38, 23, ysc_b, yax_b, xax_t) +
              tag(9.68, "9.68", "#7f7f7f", "black", 38, 23, ysc_b, yax_b, xax_t))
bsp = alt.layer(*bsp_layers).properties(width=W, height=H_B)

chart = alt.vconcat(
    price, vol, macd, bsp, spacing=0, bounds="flush", padding=0,
    title=alt.TitleParams(TITLE, fontSize=15, font=FONT, fontWeight="normal",
                          anchor="middle", offset=4, color="black"),
).configure_view(stroke="black", strokeWidth=1)

chart.save("out.html", embed_options={"renderer": "svg", "actions": False})
